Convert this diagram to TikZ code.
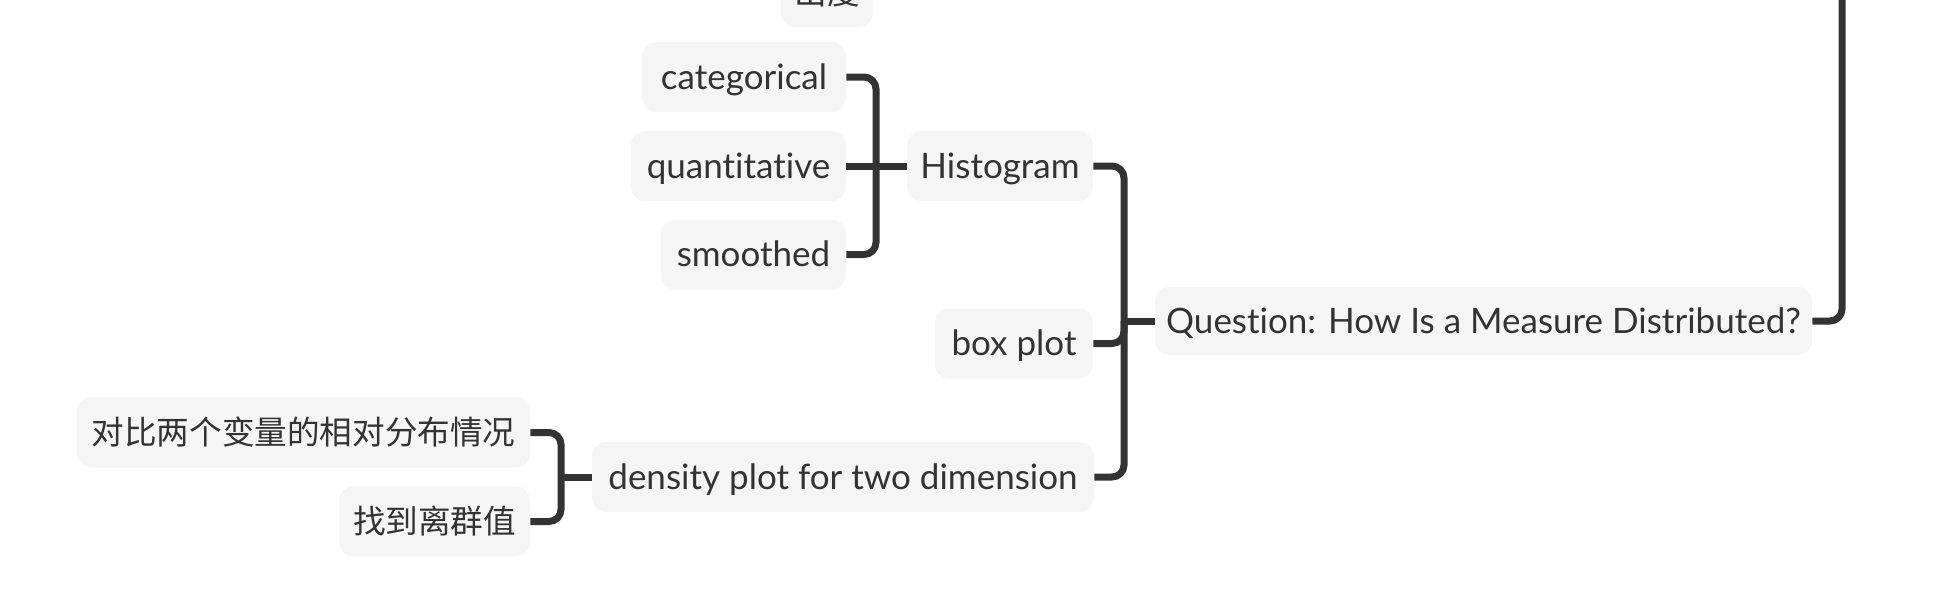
\documentclass[tikz,border=0pt]{standalone}
\usepackage{fontspec}
\setmainfont{Lato}[Ligatures=NoCommon]
\newfontfamily\cjk{Noto Sans CJK SC}
\definecolor{linec}{HTML}{333333}
\definecolor{boxc}{HTML}{F5F5F5}
\begin{document}
\begin{tikzpicture}[x=0.5pt,y=-0.5pt,
  topic/.style={fill=boxc, rounded corners=7pt, inner sep=0pt, text=linec,
    font=\fontsize{17.5}{20}\selectfont, minimum height=35pt,
    text height=12pt, text depth=0pt},
  cjktopic/.style={topic, font=\fontsize{16.3}{19}\cjk},
  conn/.style={draw=linec, line width=3.5pt, rounded corners=6pt},
  spine/.style={draw=linec, line width=3.5pt}]
\useasboundingbox (0,0) rectangle (1942,590);
% nodes
\node[cjktopic, minimum width=46pt] (chudu) at (827,-8) {出度};
\node[topic, minimum width=102pt] (cat) at (744,77) {categorical};
\node[topic, minimum width=107.5pt] (quant) at (738.5,166) {quantitative};
\node[topic, minimum width=92.5pt] (smooth) at (753.5,254.5) {smoothed};
\node[topic, minimum width=93pt] (hist) at (1000,166) {Histogram};
\node[topic, minimum width=79pt] (boxp) at (1014,343.5) {box plot};
\node[topic, minimum width=251pt] (dens) at (843,477) {density plot for two dimension};
\node[topic, minimum width=328.5pt, minimum height=34pt] (q) at (1483.5,321) {Question: How Is a Measure Distributed?};
\node[cjktopic, minimum width=226.5pt] (cmp) at (303.5,432.5) {对比两个变量的相对分布情况};
\node[cjktopic, minimum width=95.5pt] (outl) at (434.5,521.5) {找到离群值};
% junctions
\coordinate (j1) at (876,166);
\coordinate (j2) at (1124,321);
\coordinate (j3) at (561,477);
\coordinate (rootend) at (1842,-20);
% connectors
\draw[conn] (cat.east) -| (j1);
\draw[conn] (smooth.east) -| (j1);
\draw[spine] (quant.east) -- (hist.west);
\draw[conn] (hist.east) -| (j2);
\draw[conn] (boxp.east) -| (j2);
\draw[conn] (dens.east) -| (j2);
\draw[spine] (j2) -- (q.west);
\draw[conn] (cmp.east) -| (j3);
\draw[conn] (outl.east) -| (j3);
\draw[spine] (j3) -- (dens.west);
\draw[conn] (q.east) -| (rootend);
\end{tikzpicture}
\end{document}
